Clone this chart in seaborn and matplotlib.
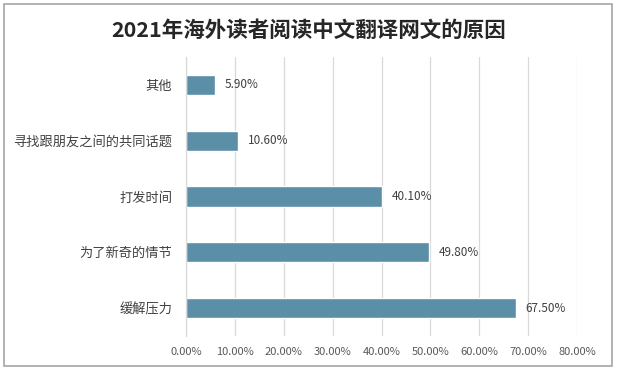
import matplotlib
matplotlib.use("Agg")
import matplotlib.pyplot as plt
import seaborn as sns
import pandas as pd
from matplotlib.patches import Rectangle
from matplotlib.ticker import FuncFormatter

categories = ["其他", "寻找跟朋友之间的共同话题", "打发时间", "为了新奇的情节", "缓解压力"]
values = [5.90, 10.60, 40.10, 49.80, 67.50]
x_ticks = [0, 10, 20, 30, 40, 50, 60, 70, 80]
title = "2021年海外读者阅读中文翻译网文的原因"

sns.set_theme(style="white")
plt.rcParams['font.family'] = ['Noto Sans CJK SC', 'DejaVu Sans']

df = pd.DataFrame({"category": categories, "value": values})

fig = plt.figure(figsize=(6.17, 3.70), dpi=100)
ax = fig.add_axes([186/617, 1-336/370, (577-186)/617, (336-57)/370])

sns.barplot(data=df, x="value", y="category", orient="h", color="#5B8FA8",
            saturation=1, width=0.36, ax=ax, order=categories)

ax.set_xlim(0, 80)
ax.set_xticks(x_ticks)
ax.xaxis.set_major_formatter(FuncFormatter(lambda v, p: f"{v:.2f}%"))
ax.grid(axis="x", color="#D9D9D9", linewidth=0.9)
ax.set_axisbelow(True)
for s in ["top", "right", "bottom"]:
    ax.spines[s].set_visible(False)
ax.spines["left"].set_color("#D9D9D9")
ax.spines["left"].set_linewidth(0.9)
ax.set_xlabel("")
ax.set_ylabel("")
ax.tick_params(axis="x", length=0, pad=8, labelsize=8, labelcolor="#595959")
ax.tick_params(axis="y", length=0, pad=10, labelsize=9.5, labelcolor="#404040")

for i, v in enumerate(values):
    ax.annotate(f"{v:.2f}%", xy=(v, i), xytext=(7, 0), textcoords="offset points",
                va="center", ha="left", fontsize=8.5, color="#404040")

fig.text(0.5, 1-30/370, title, ha="center", va="center", fontsize=15.5,
         fontweight="bold", color="#262626")

fig.patches.append(Rectangle((4/617, 4/370), 608/617, 362/370, transform=fig.transFigure,
                             fill=False, edgecolor="#A6A6A6", linewidth=1.2))

fig.savefig("out.png", dpi=100)
